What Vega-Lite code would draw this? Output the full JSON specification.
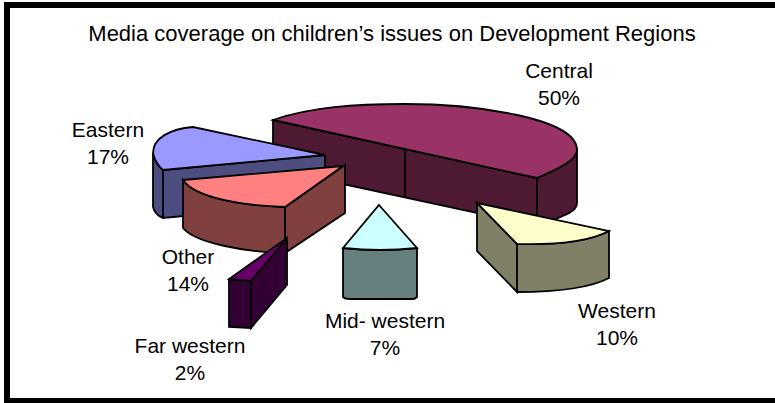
{
  "$schema": "https://vega.github.io/schema/vega-lite/v6.json",
  "autosize": {"type": "none"},
  "width": 776,
  "height": 396,
  "padding": {"left": 7, "top": 5, "right": 0, "bottom": 2},
  "background": "white",
  "view": {"stroke": "black", "strokeWidth": 6, "fill": "white"},
  "title": {"text": "Media coverage on children’s issues on Development Regions", "font": "Liberation Sans", "fontSize": 22, "fontWeight": "normal", "color": "black", "anchor": "middle", "dx": -3, "offset": -41},
  "data": {"values": [
    {"region": "Central", "share": 50, "label": "Central\n50%"},
    {"region": "Eastern", "share": 17, "label": "Eastern\n17%"},
    {"region": "Other", "share": 14, "label": "Other\n14%"},
    {"region": "Far western", "share": 2, "label": "Far western\n2%"},
    {"region": "Western", "share": 10, "label": "Western\n10%"},
    {"region": "Mid- western", "share": 7, "label": "Mid- western\n7%"}
  ]},
  "resolve": {"scale": {"shape": "independent", "fill": "independent"}},
  "layer": [
    {
      "mark": {"type": "point", "filled": true, "size": 4, "opacity": 1, "stroke": "black", "strokeWidth": 1.8},
      "encoding": {
        "shape": {"field": "region", "type": "nominal", "legend": null, "scale": {
          "domain": ["Central", "Eastern", "Other", "Far western", "Western", "Mid- western"],
          "range": [
            "M-122,-83L142,-25L142,23L-122,-34ZM10,-54L10,-6M142,-25C160,-33 182,-42 182,-53L182,0C182,10 165,14 142,23Z",
            "M-242,-50Q-240,-40 -232,-33L-232,15Q-240,12 -242,4ZM-232,-33L-70,-48L-70,0L-232,15Z",
            "M-212,-23C-200,-5 -150,3 -110,4L-110,50C-150,49 -200,40 -212,25ZM-110,4L-50,-38L-50,10L-110,50Z",
            "M-166,76L-144,78L-144,125L-166,124ZM-144,78L-108,35L-108,82L-144,125Z",
            "M82,0L122,41L122,89L82,48ZM122,41C160,42 195,38 214,28L214,75C195,85 160,89 122,89Z",
            "M-52,45Q-15,49 22,45L22,94Q20,96 18,96L-45,96Q-50,96 -52,94Z"
          ]
        }},
        "fill": {"field": "region", "type": "nominal", "legend": null, "scale": {
          "domain": ["Central", "Eastern", "Other", "Far western", "Western", "Mid- western"],
          "range": ["#4D1933", "#4D4D80", "#804040", "#330033", "#808066", "#668080"]
        }}
      }
    },
    {
      "mark": {"type": "point", "filled": true, "size": 4, "opacity": 1, "stroke": "black", "strokeWidth": 1.8},
      "encoding": {
        "shape": {"field": "region", "type": "nominal", "legend": null, "scale": {
          "domain": ["Central", "Eastern", "Other", "Far western", "Western", "Mid- western"],
          "range": [
            "M-122,-83C-85,-96 -40,-99 10,-99C80,-99 182,-85 182,-53C182,-42 160,-33 142,-25Z",
            "M-242,-50Q-240,-40 -232,-33L-70,-48L-202,-76C-225,-74 -242,-65 -242,-50Z",
            "M-212,-23L-52,-37L-110,4C-150,3 -200,-5 -212,-23Z",
            "M-108,35L-166,76L-144,78Z",
            "M82,0L214,28C195,38 160,42 122,41Z",
            "M-16,2L22,45Q-15,49 -52,45Z"
          ]
        }},
        "fill": {"field": "region", "type": "nominal", "legend": null, "scale": {
          "domain": ["Central", "Eastern", "Other", "Far western", "Western", "Mid- western"],
          "range": ["#993366", "#9999FF", "#FF8080", "#660066", "#FFFFCC", "#CCFFFF"]
        }}
      }
    },
    {"transform": [{"filter": "datum.region === 'Central'"}], "mark": {"type": "text", "font": "Liberation Sans", "fontSize": 21, "lineBreak": "\n", "lineHeight": 26.5, "color": "black", "dx": 164, "dy": -131}, "encoding": {"text": {"field": "label"}}},
    {"transform": [{"filter": "datum.region === 'Eastern'"}], "mark": {"type": "text", "font": "Liberation Sans", "fontSize": 21, "lineBreak": "\n", "lineHeight": 26.5, "color": "black", "dx": -287, "dy": -72}, "encoding": {"text": {"field": "label"}}},
    {"transform": [{"filter": "datum.region === 'Other'"}], "mark": {"type": "text", "font": "Liberation Sans", "fontSize": 21, "lineBreak": "\n", "lineHeight": 26.5, "color": "black", "dx": -207, "dy": 55}, "encoding": {"text": {"field": "label"}}},
    {"transform": [{"filter": "datum.region === 'Far western'"}], "mark": {"type": "text", "font": "Liberation Sans", "fontSize": 21, "lineBreak": "\n", "lineHeight": 26.5, "color": "black", "dx": -205, "dy": 144}, "encoding": {"text": {"field": "label"}}},
    {"transform": [{"filter": "datum.region === 'Western'"}], "mark": {"type": "text", "font": "Liberation Sans", "fontSize": 21, "lineBreak": "\n", "lineHeight": 26.5, "color": "black", "dx": 222, "dy": 109}, "encoding": {"text": {"field": "label"}}},
    {"transform": [{"filter": "datum.region === 'Mid- western'"}], "mark": {"type": "text", "font": "Liberation Sans", "fontSize": 21, "lineBreak": "\n", "lineHeight": 26.5, "color": "black", "dx": -10, "dy": 119}, "encoding": {"text": {"field": "label"}}}
  ]
}
